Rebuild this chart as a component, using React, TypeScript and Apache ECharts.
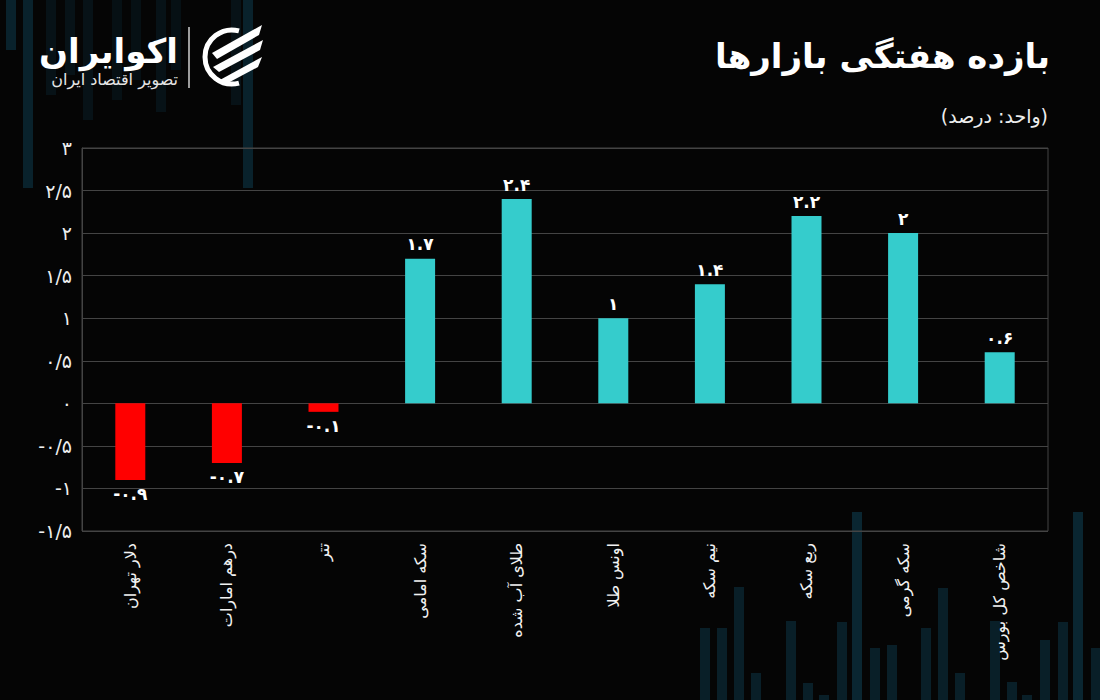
import React, { useEffect, useRef } from "react";
import * as echarts from "echarts";

const categories = [
  "دلار تهران",
  "درهم امارات",
  "تتر",
  "سکه امامی",
  "طلای آب شده",
  "اونس طلا",
  "نیم سکه",
  "ربع سکه",
  "سکه گرمی",
  "شاخص کل بورس",
];
const values = [-0.9, -0.7, -0.1, 1.7, 2.4, 1, 1.4, 2.2, 2, 0.6];
const yTicks = [-1.5, -1, -0.5, 0, 0.5, 1, 1.5, 2, 2.5, 3];
const yTickLabels = ["-۱/۵", "-۱", "-۰/۵", "۰", "۰/۵", "۱", "۱/۵", "۲", "۲/۵", "۳"];

const title = "بازده هفتگی بازارها";
const subtitle = "(واحد: درصد)";
const brand = "اکوایران";
const brandSub = "تصویر اقتصاد ایران";

const FONT = "'DejaVu Sans', 'Noto Sans', sans-serif";
const POS = "#35cccc";
const NEG = "#ff0000";

const faDigits = "۰۱۲۳۴۵۶۷۸۹";
function toFa(v: number): string {
  return String(v).replace(/[0-9]/g, (d) => faDigits[Number(d)]);
}

// decorative background bars [x, topY, bottomY, opacity]
const bgBars: [number, number, number, number][] = [
  [6, 0, 50, 0.9],
  [23, 0, 188, 0.9],
  [46, 0, 95, 0.4],
  [65, 0, 75, 0.4],
  [83, 0, 120, 0.4],
  [112, 0, 100, 0.35],
  [131, 0, 80, 0.35],
  [156, 0, 112, 0.4],
  [171, 0, 70, 0.35],
  [231, 0, 105, 0.4],
  [243, 0, 188, 0.9],
  [700, 628, 700, 0.8],
  [717, 628, 700, 0.8],
  [734, 587, 700, 0.8],
  [751, 673, 700, 0.8],
  [786, 621, 700, 0.8],
  [803, 683, 700, 0.8],
  [819, 695, 700, 0.8],
  [837, 622, 700, 0.8],
  [852, 512, 700, 1],
  [870, 648, 700, 0.8],
  [887, 645, 700, 0.8],
  [921, 628, 700, 0.8],
  [938, 588, 700, 0.8],
  [955, 673, 700, 0.8],
  [990, 621, 700, 0.8],
  [1007, 682, 700, 0.8],
  [1022, 695, 700, 0.8],
  [1040, 640, 700, 0.8],
  [1058, 622, 700, 0.8],
  [1073, 512, 700, 1],
  [1091, 648, 700, 0.8],
];

export default function App() {
  const ref = useRef<HTMLDivElement>(null);

  useEffect(() => {
    if (!ref.current) return;
    const chart = echarts.init(ref.current, null, { renderer: "svg" });

    const bgRects = bgBars.map(([x, y0, y1, op]) => ({
      type: "rect",
      z: -10,
      silent: true,
      shape: { x, y: y0, width: 10, height: y1 - y0 },
      style: { fill: "#0a2631", opacity: op },
    }));

    const option: any = {
      animation: false,
      backgroundColor: "#050505",
      textStyle: { fontFamily: FONT },
      grid: {
        left: 82,
        right: 52,
        top: 148,
        bottom: 169,
        show: true,
        borderColor: "#444444",
        borderWidth: 1,
        backgroundColor: "transparent",
        containLabel: false,
      },
      xAxis: {
        type: "category",
        data: categories,
        axisLine: { show: false },
        axisTick: { show: false },
        axisLabel: {
          rotate: 90,
          margin: 12,
          color: "#f2f2f2",
          fontSize: 16,
          fontFamily: FONT,
          interval: 0,
        },
      },
      yAxis: {
        type: "value",
        min: -1.5,
        max: 3,
        interval: 0.5,
        axisLine: { show: true, lineStyle: { color: "#444444" } },
        axisTick: { show: false },
        splitLine: { show: true, lineStyle: { color: "#444444", width: 1 } },
        axisLabel: {
          color: "#eeeeee",
          fontSize: 19,
          margin: 10,
          fontFamily: FONT,
          formatter: (v: number) => {
            const i = yTicks.findIndex((t) => Math.abs(t - v) < 1e-9);
            return i >= 0 ? yTickLabels[i] : toFa(v);
          },
        },
      },
      series: [
        {
          type: "bar",
          barWidth: 30,
          z: 2,
          data: values.map((v) => ({
            value: v,
            itemStyle: { color: v >= 0 ? POS : NEG },
            label: { position: v >= 0 ? "top" : "bottom" },
          })),
          label: {
            show: true,
            color: "#ffffff",
            fontSize: 17,
            fontWeight: "bold",
            fontFamily: FONT,
            distance: 6,
            formatter: (p: any) => toFa(p.value),
          },
        },
      ],
      graphic: [
        ...bgRects,
        {
          type: "text",
          right: 50,
          top: 39,
          style: {
            text: title,
            fill: "#ffffff",
            font: `bold 34px ${FONT}`,
          },
        },
        {
          type: "text",
          right: 52,
          top: 106,
          style: {
            text: subtitle,
            fill: "#eeeeee",
            font: `19px ${FONT}`,
          },
        },
        {
          type: "text",
          x: 178,
          y: 51,
          style: {
            text: brand,
            fill: "#ffffff",
            font: `bold 34px ${FONT}`,
            align: "right",
            verticalAlign: "middle",
          },
        },
        {
          type: "text",
          x: 178,
          y: 79,
          style: {
            text: brandSub,
            fill: "#e6e6e6",
            font: `16px ${FONT}`,
            align: "right",
            verticalAlign: "middle",
          },
        },
        {
          type: "line",
          shape: { x1: 189, y1: 27, x2: 189, y2: 88 },
          style: { stroke: "#d0d0d0", lineWidth: 1.5 },
        },
        {
          type: "group",
          x: 232,
          y: 57,
          children: [
            {
              type: "arc",
              shape: {
                cx: 0,
                cy: 0,
                r: 27,
                startAngle: (75 * Math.PI) / 180,
                endAngle: (285 * Math.PI) / 180,
                clockwise: true,
              },
              style: { stroke: "#ffffff", lineWidth: 5, fill: "none" },
            },
            {
              type: "polygon",
              shape: { points: [[-20, -4], [30, -32], [27, -22], [-15, 2]] },
              style: { fill: "#ffffff" },
            },
            {
              type: "polygon",
              shape: { points: [[-19, 10], [31, -17], [28, -7], [-13, 15]] },
              style: { fill: "#ffffff" },
            },
            {
              type: "polygon",
              shape: { points: [[-14, 24], [30, 0], [26, 10], [-6, 27]] },
              style: { fill: "#ffffff" },
            },
          ],
        },
      ],
    };

    chart.setOption(option);
    return () => chart.dispose();
  }, []);

  return (
    <div
      ref={ref}
      style={{ position: "fixed", left: 0, top: 0, width: 1100, height: 700 }}
    />
  );
}
